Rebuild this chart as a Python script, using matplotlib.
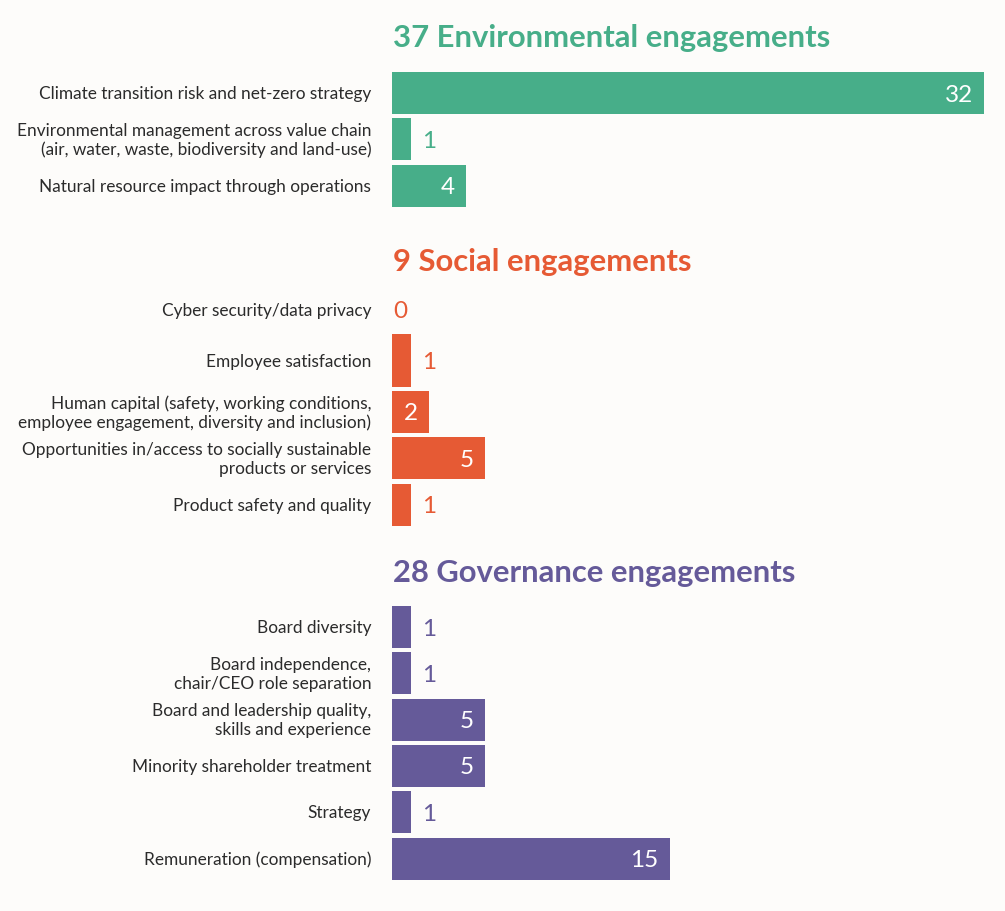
import matplotlib.pyplot as plt
import matplotlib as mpl

mpl.rcParams['font.family'] = ['Lato', 'DejaVu Sans']

# data
env_labels = ["Climate transition risk and net-zero strategy",
              "Environmental management across value chain\n(air, water, waste, biodiversity and land-use)",
              "Natural resource impact through operations"]
env_values = [32, 1, 4]

soc_labels = ["Cyber security/data privacy",
              "Employee satisfaction",
              "Human capital (safety, working conditions,\nemployee engagement, diversity and inclusion)",
              "Opportunities in/access to socially sustainable\nproducts or services",
              "Product safety and quality"]
soc_values = [0, 1, 2, 5, 1]

gov_labels = ["Board diversity",
              "Board independence,\nchair/CEO role separation",
              "Board and leadership quality,\nskills and experience",
              "Minority shareholder treatment",
              "Strategy",
              "Remuneration (compensation)"]
gov_values = [1, 1, 5, 5, 1, 15]

titles = ["37 Environmental engagements", "9 Social engagements", "28 Governance engagements"]
colors = ["#47ae89", "#e65a34", "#655a99"]

# layout (pixel rows, top = 0)
W, H = 1005, 911
x0, px_per_unit = 392, 18.5
pitch = 46.3
env_y = [93 + pitch * i for i in range(3)]
soc_y = [310, 360.5] + [412 + pitch * i for i in range(3)]
gov_y = [627 + pitch * i for i in range(6)]
soc_h = [42, 53, 42, 42, 42]
title_base = [47.5, 271, 582]

bg = "#fdfcfa"
fig = plt.figure(figsize=(W / 100, H / 100), dpi=100, facecolor=bg)
ax = fig.add_axes([0, 0, 1, 1])
ax.set_facecolor(bg)
ax.set_xlim(-x0 / px_per_unit, (W - x0) / px_per_unit)
ax.set_ylim(H, 0)
ax.axis("off")

groups = [(env_labels, env_values, env_y, [42] * 3),
          (soc_labels, soc_values, soc_y, soc_h),
          (gov_labels, gov_values, gov_y, [42] * 6)]

for (labels, values, ys, hs), title, c, tb in zip(groups, titles, colors, title_base):
    ax.barh(ys, values, height=hs, color=c, left=0)
    ax.annotate(title, xy=(0, tb), xytext=(1, 0), textcoords="offset points",
                ha="left", va="baseline", fontsize=22.3, fontweight="bold", color=c)
    for lab, v, y in zip(labels, values, ys):
        ax.annotate(lab, xy=(0, y), xytext=(-15, -0.8), textcoords="offset points",
                    ha="right", va="center", fontsize=12.4, color="#2b2b2b",
                    linespacing=1.22)
        if v >= 2:
            ax.annotate(str(v), xy=(v, y), xytext=(-8, 0), textcoords="offset points",
                        ha="right", va="center_baseline", fontsize=17.5, color="white")
        else:
            off = 8 if v > 0 else 1
            ax.annotate(str(v), xy=(v, y), xytext=(off, 0), textcoords="offset points",
                        ha="left", va="center_baseline", fontsize=17.5, color=c)

fig.savefig("out.png", dpi=100, facecolor=bg)
